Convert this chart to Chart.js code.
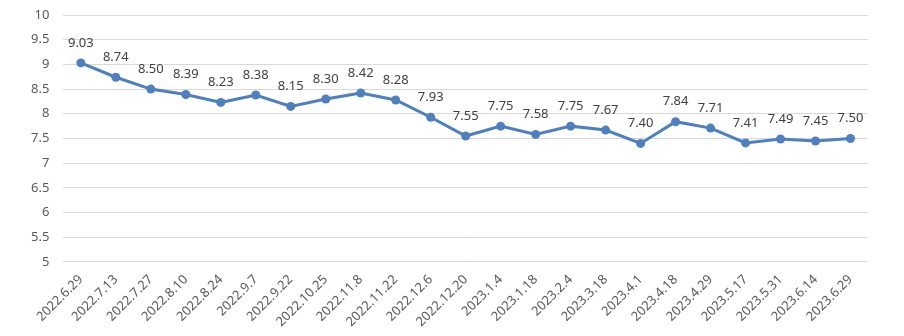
<!DOCTYPE html>
<html>
<head>
<meta charset="utf-8">
<script src="https://cdn.jsdelivr.net/npm/chart.js@4"></script>
<style>
  html, body { margin: 0; padding: 0; background: #fff; }
  #wrap { width: 904px; height: 336px; }
</style>
</head>
<body>
<div id="wrap"><canvas id="chartRate"></canvas></div>
<script>
const dates = ["2022.6.29", "2022.7.13", "2022.7.27", "2022.8.10", "2022.8.24", "2022.9.7",
    "2022.9.22", "2022.10.25", "2022.11.8", "2022.11.22", "2022.12.6", "2022.12.20",
    "2023.1.4", "2023.1.18", "2023.2.4", "2023.3.18", "2023.4.1", "2023.4.18",
    "2023.4.29", "2023.5.17", "2023.5.31", "2023.6.14", "2023.6.29"];
const values = [9.03, 8.74, 8.50, 8.39, 8.23, 8.38, 8.15, 8.30, 8.42, 8.28, 7.93, 7.55,
    7.75, 7.58, 7.75, 7.67, 7.40, 7.84, 7.71, 7.41, 7.49, 7.45, 7.50];

// labels above each point
const pointLabels = {
    id: 'pointLabels',
    afterDatasetsDraw(chart) {
        const ctx = chart.ctx;
        const meta = chart.getDatasetMeta(0);
        ctx.save();
        ctx.font = '13px "Noto Sans", sans-serif';
        ctx.fillStyle = '#404040';
        ctx.textAlign = 'center';
        ctx.textBaseline = 'middle';
        meta.data.forEach((pt, i) => {
            ctx.fillText(values[i].toFixed(2), pt.x, pt.y - 20);
        });
        ctx.restore();
    }
};

window.addEventListener('DOMContentLoaded', () => {
    const chartRate = new Chart("chartRate", {
        type: "line",
        data: {
            labels: dates,
            datasets: [{
                data: values,
                borderColor: "#4E7FBE",
                backgroundColor: "#4E7FBE",
                borderWidth: 3,
                pointRadius: 4.5,
                pointBorderWidth: 0,
                tension: 0
            }]
        },
        options: {
            responsive: true,
            maintainAspectRatio: false,
            animation: false,
            layout: { padding: { left: 17, right: 36, top: 15, bottom: 4 } },
            plugins: {
                legend: { display: false },
                tooltip: { enabled: false }
            },
            scales: {
                x: {
                    offset: true,
                    grid: { display: false },
                    border: { display: false },
                    ticks: {
                        autoSkip: false,
                        minRotation: 45,
                        maxRotation: 45,
                        padding: 2,
                        color: '#595959',
                        font: { family: '"Noto Sans", sans-serif', size: 13 }
                    }
                },
                y: {
                    min: 5,
                    max: 10,
                    border: { display: false },
                    grid: { color: '#d9d9d9', drawTicks: false },
                    afterFit: (scale) => { scale.paddingTop = 0; },
                    ticks: {
                        stepSize: 0.5,
                        padding: 14,
                        color: '#595959',
                        font: { family: '"Noto Sans", sans-serif', size: 13 },
                        callback: (v) => String(v)
                    }
                }
            }
        },
        plugins: [pointLabels]
    });
});
</script>
</body>
</html>
